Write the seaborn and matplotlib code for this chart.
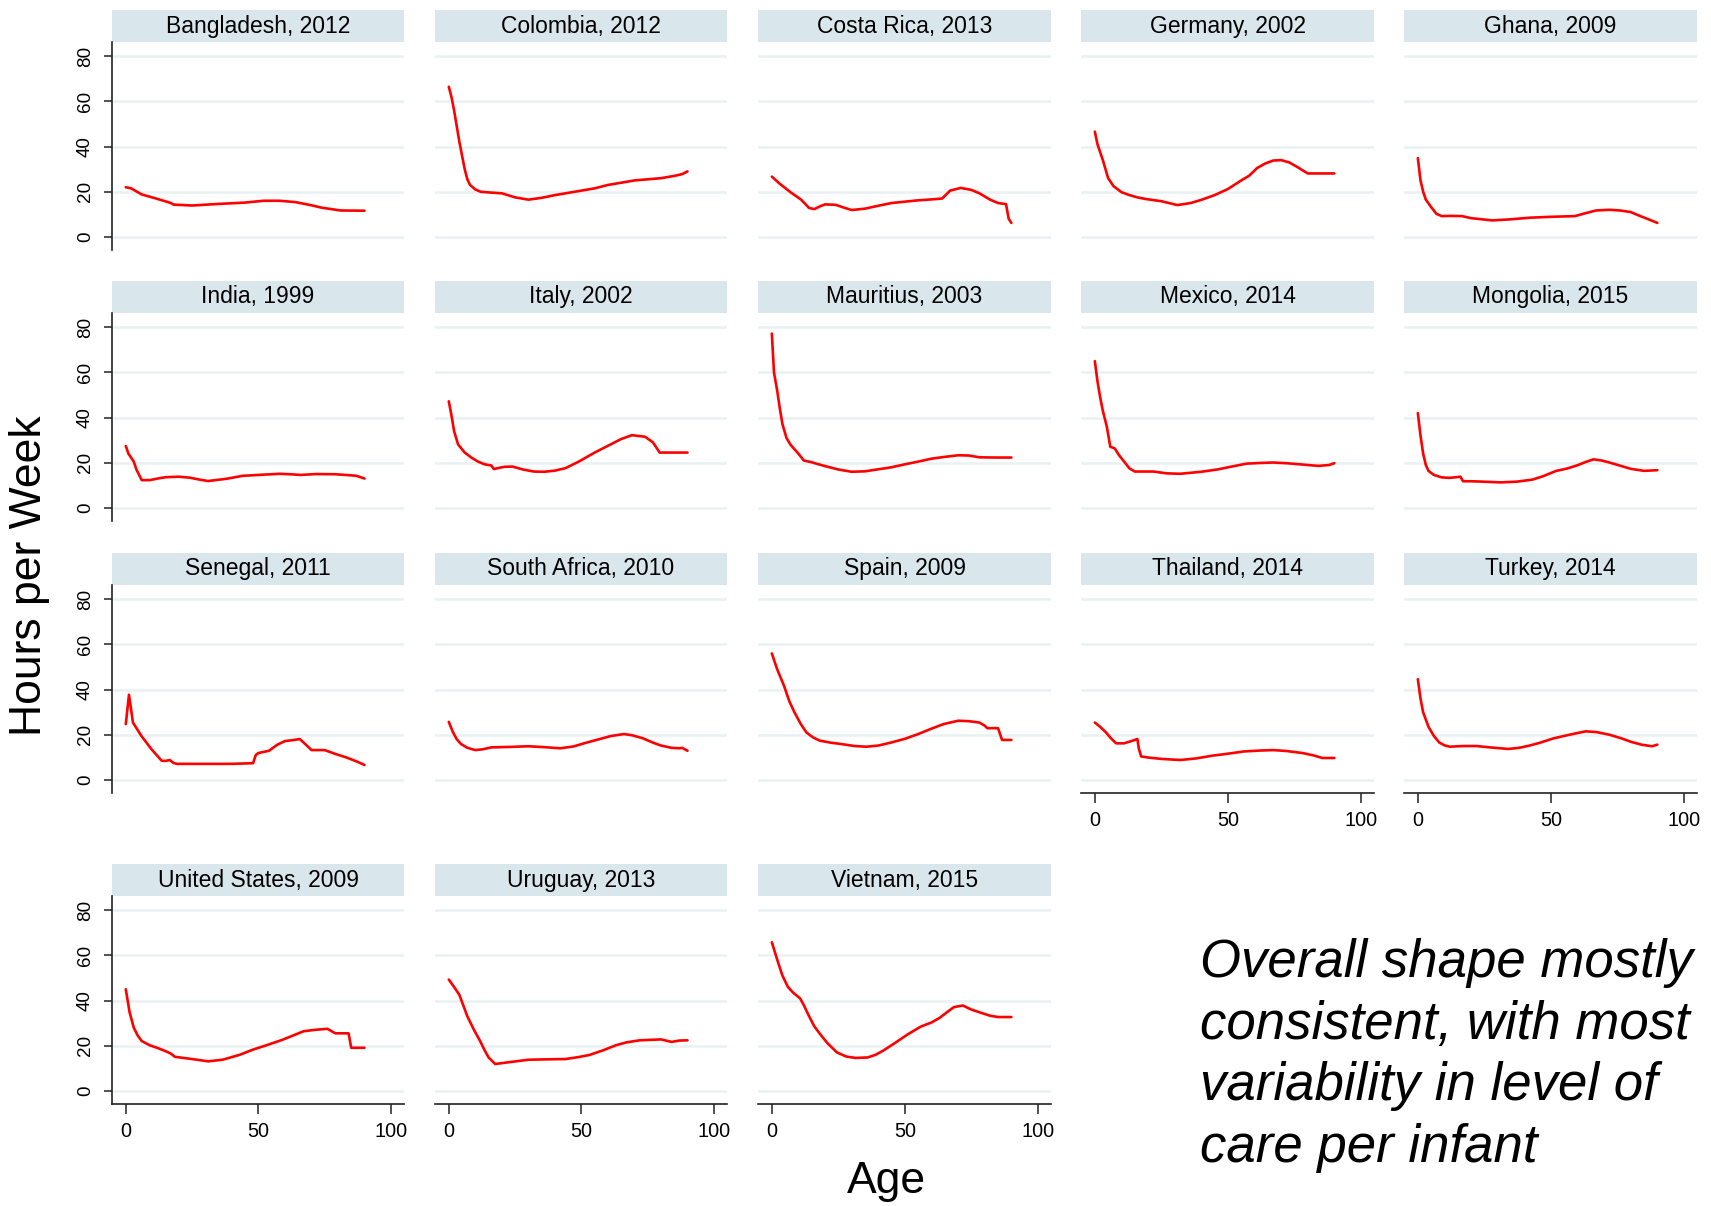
import numpy as np
import pandas as pd
import matplotlib
matplotlib.use("Agg")
import matplotlib.pyplot as plt
from matplotlib.patches import Rectangle
import seaborn as sns

# Datos: horas de cuidado por semana según edad, por país
bangladesh_age = [0, 2, 6, 12, 17, 18, 25, 35, 45, 52, 58, 64, 70, 74, 81, 90]
bangladesh_hrs = [22, 21.5, 18.8, 16.8, 15, 14.3, 13.9, 14.6, 15.2, 16, 16, 15.4, 14, 12.9, 11.7, 11.6]

colombia_age = [0, 1, 2, 3, 4, 5, 6, 7, 8, 10, 12, 15, 20, 25, 30, 35, 40, 45, 50, 55, 60, 65, 70, 75, 80, 85, 88, 90]
colombia_hrs = [66.5, 62, 56, 49, 42, 36, 30, 25.5, 23, 21, 20, 19.7, 19.3, 17.5, 16.5, 17.3, 18.5, 19.5, 20.5, 21.5, 23, 24, 25, 25.5, 26, 27, 27.8, 29]

costarica_age = [0, 3, 7, 11, 14, 16, 18, 20, 24, 27, 30, 35, 40, 45, 50, 55, 60, 64, 67, 71, 75, 78, 82, 85, 88, 89, 90]
costarica_hrs = [26.7, 23.5, 19.8, 16.5, 12.8, 12.3, 13.5, 14.4, 14.2, 13, 11.9, 12.5, 13.8, 15, 15.6, 16.2, 16.6, 17, 20.5, 21.7, 20.8, 19.3, 16.5, 15, 14.5, 8, 6.2]

germany_age = [0, 1, 3, 5, 7, 10, 13, 16, 19, 25, 31, 36, 40, 45, 50, 55, 58, 61, 64, 67, 70, 73, 76, 80, 85, 90]
germany_hrs = [46.6, 41, 34, 26, 22.5, 19.8, 18.5, 17.5, 16.8, 15.8, 14.1, 15, 16.4, 18.5, 21.2, 25, 27.1, 30.5, 32.5, 33.8, 34, 33, 31, 28.1, 28.1, 28.1]

ghana_age = [0, 1, 2, 3, 5, 7, 9, 12, 16.6, 20, 28, 35, 42, 50, 59, 63, 67, 72, 76, 80, 83, 86, 90]
ghana_hrs = [34.9, 25, 20, 16.5, 13.2, 10.2, 9.2, 9.3, 9.2, 8.3, 7.3, 7.8, 8.5, 8.9, 9.2, 10.5, 11.7, 12, 11.7, 11, 9.5, 8.1, 6.2]

india_age = [0, 1, 3, 4, 6, 9, 12, 15, 20, 24, 28, 31, 38, 44, 50, 58, 62, 66, 72, 79, 84, 87, 90]
india_hrs = [27.4, 24, 20.5, 17, 12.3, 12.3, 13, 13.6, 13.8, 13.4, 12.5, 11.9, 12.9, 14.2, 14.6, 15.1, 14.9, 14.6, 15, 14.9, 14.5, 14.2, 13]

italy_age = [0, 1, 2, 3.5, 6, 8.5, 11, 13.5, 16, 17, 18, 21, 24, 28, 32, 36, 40, 44, 49, 55, 61, 65, 69, 74, 77, 79.5, 90]
italy_hrs = [47.2, 41, 34, 28.1, 24.5, 22.3, 20.5, 19.3, 18.8, 17.2, 17.5, 18.2, 18.3, 17, 16.1, 16, 16.5, 17.6, 20.5, 24.5, 28.1, 30.5, 32.2, 31.5, 29, 24.5, 24.5]

mauritius_age = [0, 0.8, 2, 3, 4, 5.5, 7, 10, 12, 15, 17, 20, 25, 30, 35, 40, 45, 50, 55, 60, 65, 70, 74, 78, 84, 90]
mauritius_hrs = [77.2, 60, 52, 44, 37, 31, 28, 24, 21, 20.2, 19.5, 18.5, 17, 16, 16.2, 17.1, 18, 19.3, 20.5, 21.8, 22.6, 23.3, 23.2, 22.4, 22.3, 22.3]

mexico_age = [0, 1, 2, 3, 4.5, 5.8, 7.5, 9, 11, 13, 15, 22, 27, 32, 40, 46, 51, 57, 62, 67, 72, 77, 84, 88, 90]
mexico_hrs = [65, 56, 49, 43, 36, 27.1, 26.3, 23.5, 20.5, 17.5, 16.1, 16.1, 15.3, 15.1, 16, 17, 18.2, 19.6, 19.9, 20.1, 19.8, 19.3, 18.6, 19, 19.8]

mongolia_age = [0, 1, 2, 3, 4, 6, 9, 12, 16, 17, 20, 25, 31, 37, 43, 47, 52, 56, 60, 63, 66, 69, 72, 76, 80, 85, 90]
mongolia_hrs = [42, 32, 24, 19, 16.4, 14.6, 13.5, 13.3, 13.8, 11.8, 11.8, 11.6, 11.3, 11.6, 12.5, 14, 16.4, 17.4, 18.9, 20.3, 21.5, 21, 20.1, 18.7, 17.3, 16.4, 16.7]

senegal_age = [0, 1.2, 2.7, 5.8, 9.6, 13.5, 15, 16.6, 18, 19.3, 30, 40, 48, 49, 50, 54, 57, 60, 63, 65.6, 68, 70, 75, 79, 83, 87, 90]
senegal_hrs = [24.7, 37.7, 25.4, 19.6, 13.7, 8.5, 8.4, 8.8, 7.5, 7.1, 7.1, 7.1, 7.4, 11, 11.9, 12.9, 15.5, 17.2, 17.6, 18.1, 15.5, 13.2, 13.2, 11.5, 10, 8.2, 6.6]

safrica_age = [0, 1.5, 3, 4.6, 7, 10, 13, 16, 23, 30, 36, 42, 47, 51, 56, 61, 66, 69, 73, 77, 80, 84, 87, 88, 90]
safrica_hrs = [25.7, 21.3, 18, 15.9, 14.2, 13.2, 13.6, 14.4, 14.6, 14.9, 14.5, 14, 14.8, 16.2, 17.8, 19.4, 20.3, 19.8, 18.5, 16.5, 15.2, 14.2, 14, 14.2, 12.9]

spain_age = [0, 2, 4.6, 6.5, 8.5, 11, 13, 15.5, 18, 22, 26, 31, 35.5, 40, 45, 50, 55, 60, 64.5, 70, 74, 78, 80, 81, 85, 86.5, 90]
spain_hrs = [56, 49, 41.6, 35, 29.9, 24.5, 21, 18.8, 17.4, 16.5, 15.9, 15, 14.7, 15.2, 16.6, 18.2, 20.3, 22.7, 24.7, 26.2, 26, 25.4, 24, 22.9, 22.9, 17.7, 17.7]

thailand_age = [0, 2, 4.2, 6, 8, 11, 14, 16, 16.5, 17.4, 20, 25, 32, 38, 44, 50, 56, 62, 67, 72, 78, 82, 85.5, 90]
thailand_hrs = [25.4, 23.5, 21, 18.5, 16.2, 16.2, 17.3, 18.1, 14, 10.4, 9.9, 9.3, 8.8, 9.5, 10.7, 11.6, 12.6, 13, 13.2, 12.8, 11.9, 10.9, 9.7, 9.7]

turkey_age = [0, 1, 2, 4, 6, 8, 10, 12, 17, 22, 28, 34, 38, 42, 46, 51, 57, 63, 67, 72, 76.5, 80, 84, 88, 90]
turkey_hrs = [44.6, 36, 29.9, 23.5, 19.5, 16.6, 15.3, 14.7, 15, 15, 14.3, 13.7, 14.2, 15.2, 16.5, 18.4, 20, 21.5, 21.2, 20, 18.4, 16.9, 15.6, 14.9, 15.6]

usa_age = [0, 1.4, 3, 4.5, 6, 9, 12, 15, 17, 18.5, 25, 31, 36.5, 43, 48, 53, 59, 63, 67, 71, 76, 79, 84, 85, 90]
usa_hrs = [45, 35, 28, 24.5, 22.1, 20.2, 19, 17.6, 16.5, 15.1, 14.1, 13.1, 13.8, 16, 18.3, 20.2, 22.6, 24.5, 26.4, 27, 27.5, 25.5, 25.5, 19.1, 19.1]

uruguay_age = [0, 2, 4, 7, 9.5, 11.8, 13.5, 15, 17.5, 22, 30, 38, 44, 49, 53, 58, 63, 67, 72, 76, 80, 84, 87, 90]
uruguay_hrs = [49.3, 46, 42.5, 33, 27, 22.1, 18, 14.8, 11.9, 12.6, 13.8, 14, 14.1, 15, 15.9, 17.9, 20.2, 21.5, 22.4, 22.6, 22.8, 21.7, 22.3, 22.4]

vietnam_age = [0, 2.5, 4, 6, 8, 10.6, 12, 14, 16, 18.7, 21, 24.5, 28, 31.4, 36, 39, 41.8, 46, 51, 56, 60, 63, 66, 68.4, 71.8, 75, 78.8, 82, 85, 90]
vietnam_hrs = [65.8, 56.3, 51, 46.1, 43.5, 41, 38, 33, 28.5, 24.3, 21, 17, 15.2, 14.6, 14.8, 16, 17.8, 21, 25, 28.5, 30.3, 32.3, 35, 37.1, 37.8, 36, 34.5, 33.3, 32.7, 32.7]

titles = ["Bangladesh, 2012", "Colombia, 2012", "Costa Rica, 2013", "Germany, 2002", "Ghana, 2009",
          "India, 1999", "Italy, 2002", "Mauritius, 2003", "Mexico, 2014", "Mongolia, 2015",
          "Senegal, 2011", "South Africa, 2010", "Spain, 2009", "Thailand, 2014", "Turkey, 2014",
          "United States, 2009", "Uruguay, 2013", "Vietnam, 2015"]
series = [(bangladesh_age, bangladesh_hrs), (colombia_age, colombia_hrs), (costarica_age, costarica_hrs),
          (germany_age, germany_hrs), (ghana_age, ghana_hrs), (india_age, india_hrs),
          (italy_age, italy_hrs), (mauritius_age, mauritius_hrs), (mexico_age, mexico_hrs),
          (mongolia_age, mongolia_hrs), (senegal_age, senegal_hrs), (safrica_age, safrica_hrs),
          (spain_age, spain_hrs), (thailand_age, thailand_hrs), (turkey_age, turkey_hrs),
          (usa_age, usa_hrs), (uruguay_age, uruguay_hrs), (vietnam_age, vietnam_hrs)]

y_ticks = [0, 20, 40, 60, 80]
x_ticks = [0, 50, 100]

# tabla larga para seaborn
frames = []
for t, (a, h) in zip(titles, series):
    frames.append(pd.DataFrame({"panel": t, "age": a, "hours": h}))
df = pd.concat(frames, ignore_index=True)

sns.set_style("white")
plt.rcParams['font.family'] = ['Liberation Sans', 'DejaVu Sans']
plt.rcParams['text.color'] = 'black'
plt.rcParams['xtick.color'] = 'black'
plt.rcParams['ytick.color'] = 'black'

W, H = 1711, 1206
fig = plt.figure(figsize=(W / 100, H / 100), dpi=100)

col_lr = [(112, 404), (435, 727), (758, 1051), (1081, 1374), (1404, 1697)]
row_top = [42, 313, 585, 896]
ph = 208
strip = 32

for i, t in enumerate(titles):
    r, c = divmod(i, 5)
    l, rr = col_lr[c]
    top = row_top[r]
    ax = fig.add_axes([l / W, 1 - (top + ph) / H, (rr - l) / W, ph / H])
    sns.lineplot(data=df[df["panel"] == t], x="age", y="hours", ax=ax,
                 color="#ff0000", lw=1.9, estimator=None, sort=False)
    ax.set_xlim(-5.2, 104.9)
    ax.set_ylim(-5.8, 86.3)
    ax.set_yticks(y_ticks)
    ax.set_xticks(x_ticks)
    ax.yaxis.grid(True, color="#e9f1f3", lw=1.8)
    ax.xaxis.grid(False)
    ax.set_xlabel("")
    ax.set_ylabel("")
    for s in ["top", "right"]:
        ax.spines[s].set_visible(False)

    show_x = (r == 3) or (r == 2 and c >= 3)
    show_y = (c == 0)
    ax.spines["bottom"].set_visible(show_x)
    ax.spines["left"].set_visible(show_y)
    for s in ["bottom", "left"]:
        ax.spines[s].set_color("#222222")
        ax.spines[s].set_linewidth(1.2)
    ax.tick_params(axis="x", bottom=show_x, labelbottom=show_x, length=7, width=1.1,
                   color="#222222", labelcolor="black", labelsize=14.3, pad=6)
    ax.tick_params(axis="y", left=show_y, labelleft=show_y, length=6, width=1.1,
                   color="#222222", labelcolor="black", labelsize=13.6, pad=7)
    if show_y:
        for lab in ax.get_yticklabels():
            lab.set_rotation(90)
            lab.set_va("center")

    # barra de título estilo Stata
    ax.add_patch(Rectangle((0, 1), 1, strip / ph, transform=ax.transAxes,
                           clip_on=False, color="#d9e6ec", lw=0))
    ax.text(0.5, 1 + strip / ph / 2, t, transform=ax.transAxes, ha="center",
            va="center", fontsize=16.5, color="black")

fig.text(30 / W, 1 - 576 / H, "Hours per Week", rotation=90, ha="center", va="center",
         fontsize=32, color="black")
fig.text(886 / W, 1 - 1182 / H, "Age", ha="center", va="center", fontsize=32, color="black")

fig.text(1200 / W, 1 - 938 / H,
         "Overall shape mostly\nconsistent, with most\nvariability in level of\ncare per infant",
         ha="left", va="top", fontsize=38, style="italic", linespacing=1.3, color="black")

fig.savefig("out.png", dpi=100)
